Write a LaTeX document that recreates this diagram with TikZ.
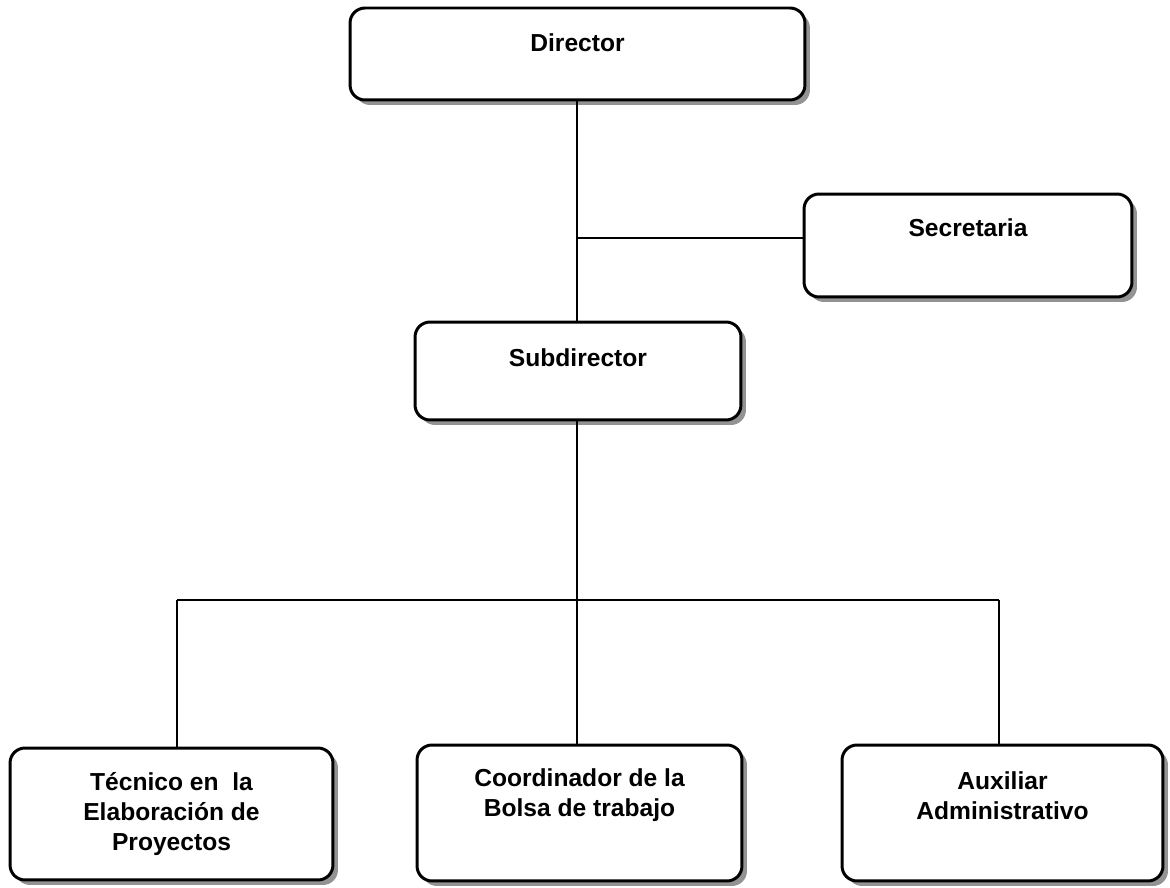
\documentclass[tikz,border=0pt]{standalone}
\usepackage{fontspec}
\setmainfont{Liberation Sans}
\usetikzlibrary{shapes,positioning,shadows}

\tikzset{
  puesto/.style={draw, line width=1.7pt, rounded corners=0.3cm, fill=white,
    align=center, font=\bfseries\fontsize{14}{17}\selectfont,
    drop shadow={shadow xshift=0.1cm, shadow yshift=-0.1cm, fill=gray!85, opacity=1}},
  linea/.style={line width=0.6pt}
}

\begin{document}
\begin{tikzpicture}[x=0.02cm, y=-0.02cm]
\useasboundingbox (0,0) rectangle (1170,888);
% puestos
\node[puesto, minimum width=9.1cm, minimum height=1.84cm, text depth=0.44cm]
  (director) at (577.5,54) {Director};
\node[puesto, minimum width=6.56cm, minimum height=2.06cm, text depth=0.72cm]
  (secretaria) at (968,245.5) {Secretaria};
\node[puesto, minimum width=6.52cm, minimum height=1.96cm, text depth=0.52cm]
  (subdirector) at (578,371) {Subdirector};
\node[puesto, minimum width=6.46cm, minimum height=2.64cm]
  (tecnico) at (171.5,814) {Técnico en \ la\\Elaboración de\\Proyectos};
\node[puesto, minimum width=6.5cm, minimum height=2.72cm, text depth=0.82cm]
  (coordinador) at (579.5,813) {Coordinador de la\\Bolsa de trabajo};
\node[puesto, minimum width=6.42cm, minimum height=2.72cm, text depth=0.68cm]
  (auxiliar) at (1002.5,813) {Auxiliar\\Administrativo};
% lineas
\coordinate (ramaSec) at (577,238);
\coordinate (busL) at (177,600);
\coordinate (busR) at (999,600);
\draw[linea] (director.south -| ramaSec) -- (subdirector.north -| ramaSec);
\draw[linea] (ramaSec) -- (secretaria.west |- ramaSec);
\draw[linea] (subdirector.south -| ramaSec) -- (coordinador.north -| ramaSec);
\draw[linea] (busL) -- (busR);
\draw[linea] (busL) -- (tecnico.north -| busL);
\draw[linea] (busR) -- (auxiliar.north -| busR);
\end{tikzpicture}
\end{document}
